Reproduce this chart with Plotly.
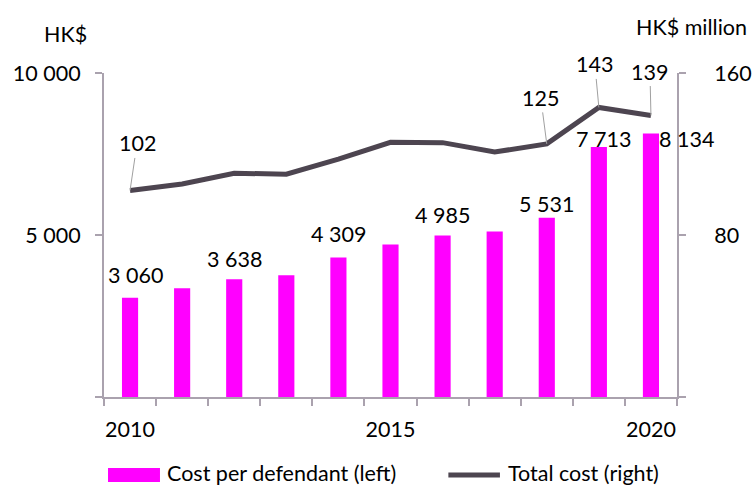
import plotly.graph_objects as go

years = [2010, 2011, 2012, 2013, 2014, 2015, 2016, 2017, 2018, 2019, 2020]
cost_per_defendant = [3060, 3355, 3638, 3755, 4309, 4705, 4985, 5110, 5531, 7713, 8134]
total_cost = [102, 105.2, 110.5, 110, 117.5, 125.8, 125.6, 121, 125, 143, 139]

bar_label_idx = [0, 2, 4, 6, 8, 9, 10]
line_label_idx = [0, 8, 9, 10]
x_tick_years = [2010, 2015, 2020]
left_ticks = [0, 5000, 10000]
right_ticks = [0, 80, 160]

# label offsets (pixels) for bar labels and line labels
bar_label_offsets = {0: (5, 23), 2: (0, 20), 4: (0, 23), 6: (0, 20), 8: (0, 14), 9: (5, 8), 10: (36, -6)}
line_label_offsets = {0: (7, -47), 8: (-6, -46), 9: (-4, -43), 10: (-1, -44)}

MAGENTA = "#ff00ff"
LINE_COL = "#4d4550"
AXIS_COL = "#aaa2ae"
FONT = "Lato"
FS = 21.5

def fmt(v):
    return f"{v:,}".replace(",", " ")

fig = go.Figure()
fig.add_trace(go.Bar(x=years, y=cost_per_defendant, width=0.31,
                     marker=dict(color=MAGENTA, line=dict(width=0)),
                     name="Cost per defendant (left)", showlegend=False))
fig.add_trace(go.Scatter(x=years, y=total_cost, yaxis="y2", mode="lines",
                         line=dict(color=LINE_COL, width=5),
                         name="Total cost (right)", showlegend=False))

txt_font = dict(size=FS, color="#000000", family=FONT)
ann = []
for i in bar_label_idx:
    dx, dy = bar_label_offsets[i]
    ann.append(dict(x=years[i], y=cost_per_defendant[i], xref="x", yref="y",
                    text=fmt(cost_per_defendant[i]), showarrow=False,
                    xshift=dx, yshift=dy, font=txt_font))
for i in line_label_idx:
    dx, dy = line_label_offsets[i]
    ann.append(dict(x=years[i], y=total_cost[i], xref="x", yref="y2",
                    text=str(total_cost[i]), showarrow=True, arrowhead=0,
                    arrowwidth=1, arrowcolor="#a0a0a0", ax=dx, ay=dy,
                    standoff=0, font=txt_font))

# axis titles
ann.append(dict(x=-0.068, y=1.12, xref="paper", yref="paper", text="HK$", showarrow=False,
                xanchor="center", yanchor="middle", font=txt_font))
ann.append(dict(x=1.1257, y=1.142, xref="paper", yref="paper", text="HK$ million", showarrow=False,
                xanchor="right", yanchor="middle", font=txt_font))

# legend (manual)
ann.append(dict(x=0.1065, y=-0.236, xref="paper", yref="paper", text="Cost per defendant (left)",
                showarrow=False, xanchor="left", yanchor="middle", font=txt_font))
ann.append(dict(x=0.7016, y=-0.236, xref="paper", yref="paper", text="Total cost (right)",
                showarrow=False, xanchor="left", yanchor="middle", font=txt_font))
shapes = [
    dict(type="rect", xref="paper", yref="paper", x0=0.007, x1=0.0977, y0=-0.262, y1=-0.219,
         fillcolor=MAGENTA, line=dict(width=0)),
    dict(type="line", xref="paper", yref="paper", x0=0.601, x1=0.691, y0=-0.2407, y1=-0.2407,
         line=dict(color=LINE_COL, width=5)),
]

fig.update_layout(
    width=752, height=485,
    margin=dict(l=104, r=75, t=73, b=88, pad=0),
    plot_bgcolor="white", paper_bgcolor="white",
    font=dict(family=FONT, size=FS, color="#000000"),
    showlegend=False,
    xaxis=dict(range=[2009.5, 2020.5], tickvals=x_tick_years, ticktext=[str(v) for v in x_tick_years],
               ticks="", showline=True, linecolor=AXIS_COL, linewidth=2, showgrid=False,
               zeroline=False, ticklabelstandoff=12, automargin=False,
               minor=dict(tick0=2009.5, dtick=1, ticks="outside", ticklen=7, tickwidth=2,
                          tickcolor=AXIS_COL, showgrid=False)),
    yaxis=dict(range=[0, 10000], tickvals=left_ticks,
               ticktext=["" if v == 0 else fmt(v) for v in left_ticks],
               ticks="outside", ticklen=7, tickwidth=2, tickcolor=AXIS_COL,
               showline=True, linecolor=AXIS_COL, linewidth=2, showgrid=False, zeroline=False,
               ticklabelstandoff=10, automargin=False),
    yaxis2=dict(range=[0, 160], tickvals=right_ticks,
                ticktext=["" if v == 0 else str(v) for v in right_ticks],
                overlaying="y", side="right",
                ticks="outside", ticklen=7, tickwidth=2, tickcolor=AXIS_COL,
                showline=True, linecolor=AXIS_COL, linewidth=2, showgrid=False, zeroline=False,
                ticklabelstandoff=24, automargin=False),
    annotations=ann, shapes=shapes,
)

fig.write_html("out.html", config={"displayModeBar": False},
               post_script="document.body.style.margin='0';document.body.style.overflow='hidden';")
